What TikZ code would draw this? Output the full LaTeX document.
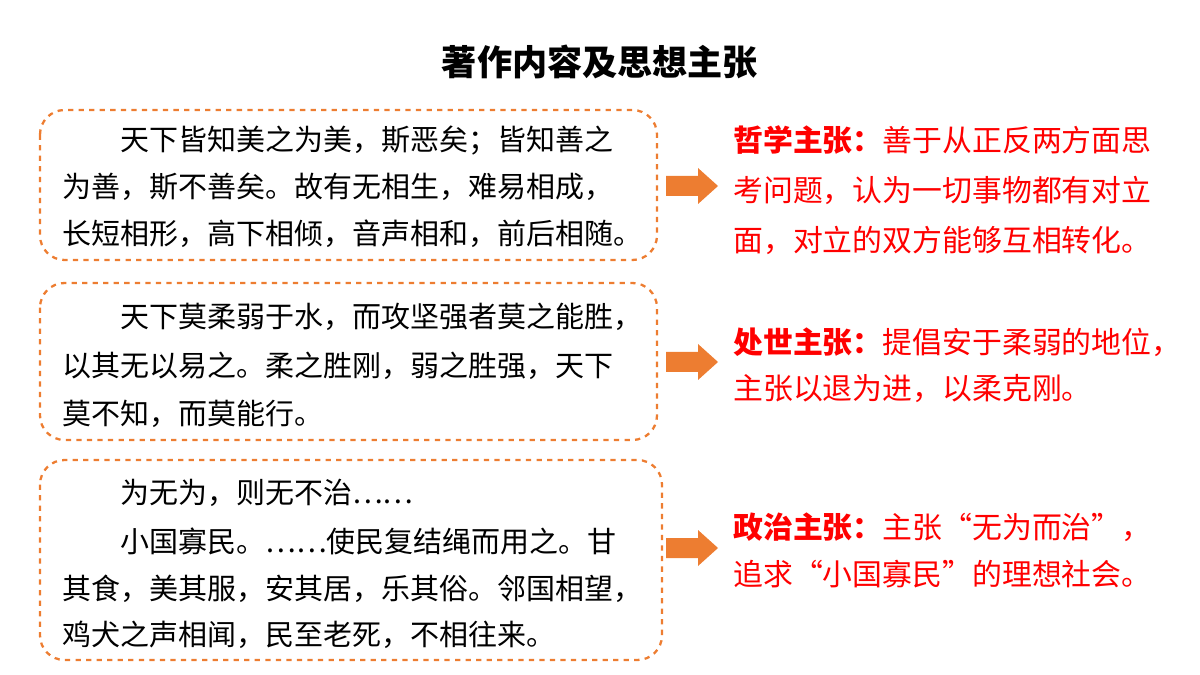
\documentclass[tikz,border=0pt]{standalone}
\usepackage{fontspec}
\newfontfamily\cjk{Noto Sans CJK SC}
\definecolor{org}{HTML}{ED7D31}
\begin{document}
\begin{tikzpicture}[x=0.02cm,y=-0.02cm,
  box/.style={draw=org, dashed, line width=1.3pt, rounded corners=14pt},
  lt/.style={anchor=west, inner sep=0pt, font=\cjk\fontsize{16.5}{20}\selectfont},
  rt/.style={anchor=west, inner sep=0pt, text=red, font=\cjk\fontsize{17}{20}\selectfont}]
\useasboundingbox (0,0) rectangle (1200,675);
\node[font=\cjk\bfseries\fontsize{20}{24}\selectfont] (title) at (600,62) {著作内容及思想主张};
\draw[box] (40,110) rectangle (657,260);
\draw[box] (40,283) rectangle (657,440);
\draw[box] (40,460) rectangle (662,660);
\node[lt] (a1) at (120,141) {天下皆知美之为美，斯恶矣；皆知善之};
\node[lt] (a2) at (62,187) {为善，斯不善矣。故有无相生，难易相成，};
\node[lt] (a3) at (62,234) {长短相形，高下相倾，音声相和，前后相随。};
\node[lt] (b1) at (120,317) {天下莫柔弱于水，而攻坚强者莫之能胜，};
\node[lt] (b2) at (62,366) {以其无以易之。柔之胜刚，弱之胜强，天下};
\node[lt] (b3) at (62,414) {莫不知，而莫能行。};
\node[lt] (c1) at (120,493) {为无为，则无不治……};
\node[lt] (c2) at (120,541) {小国寡民。……使民复结绳而用之。甘};
\node[lt] (c3) at (62,589) {其食，美其服，安其居，乐其俗。邻国相望，};
\node[lt] (c4) at (62,635) {鸡犬之声相闻，民至老死，不相往来。};
\foreach \yy/\n in {186/r1,362/r2,548/r3}{
  \coordinate (\n) at (666,\yy);
  \fill[org] (\n) ++(0,-10) -- ++(32,0) -- ++(0,-8) -- ++(20,18) -- ++(-20,18) -- ++(0,-8) -- ++(-32,0) -- cycle;
}
\node[rt] (p1) at (733,140) {\textbf{哲学主张：}善于从正反两方面思};
\node[rt] (p2) at (733,190) {考问题，认为一切事物都有对立};
\node[rt] (p3) at (733,240) {面，对立的双方能够互相转化。};
\node[rt] (q1) at (733,342) {\textbf{处世主张：}提倡安于柔弱的地位，};
\node[rt] (q2) at (733,389) {主张以退为进，以柔克刚。};
\node[rt] (s1) at (733,527) {\textbf{政治主张：}主张“无为而治”，};
\node[rt] (s2) at (733,574) {追求“小国寡民”的理想社会。};
\end{tikzpicture}
\end{document}
